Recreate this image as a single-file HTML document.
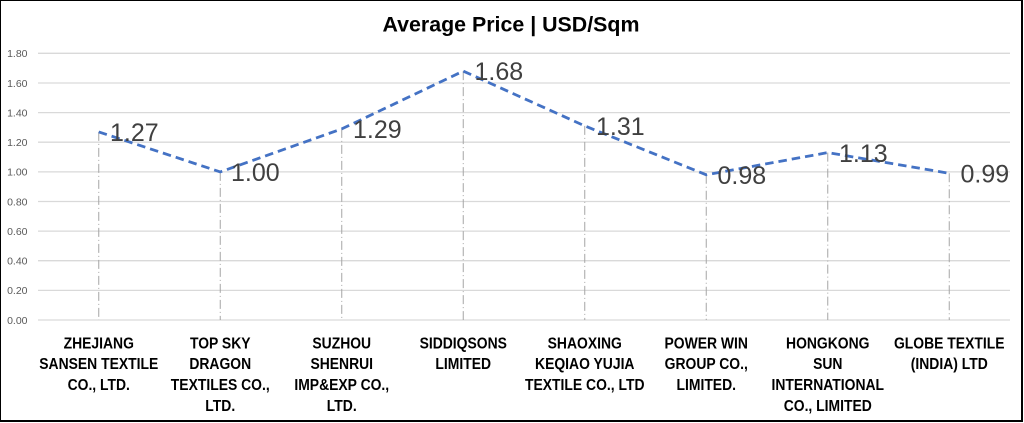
<!DOCTYPE html>
<html>
<head>
<meta charset="utf-8">
<style>
  html, body { margin: 0; padding: 0; background: #fff; }
  body { width: 1024px; height: 423px; overflow: hidden; position: relative; }
  .frame { position: absolute; left: 0; top: 0; width: 1023px; height: 422px; box-sizing: border-box;
           border-left: 1px solid #000; border-top: 1px solid #000; border-right: 2px solid #000; border-bottom: 2px solid #000; }
  svg { position: absolute; left: 0; top: 0; }
</style>
</head>
<body>
<div class="frame"></div>
<svg width="1024" height="423" viewBox="0 0 1024 423" xmlns="http://www.w3.org/2000/svg">
  <!-- Title -->
  <text x="511" y="31.7" text-anchor="middle" font-family="Liberation Sans, sans-serif" font-weight="bold" font-size="21" fill="#000" textLength="257" lengthAdjust="spacingAndGlyphs">Average Price | USD/Sqm</text>

  <!-- Gridlines -->
  <g stroke="#d9d9d9" stroke-width="1.3">
    <line x1="38" y1="53.3" x2="1010" y2="53.3"/>
    <line x1="38" y1="83" x2="1010" y2="83"/>
    <line x1="38" y1="112.6" x2="1010" y2="112.6"/>
    <line x1="38" y1="142.2" x2="1010" y2="142.2"/>
    <line x1="38" y1="171.9" x2="1010" y2="171.9"/>
    <line x1="38" y1="201.5" x2="1010" y2="201.5"/>
    <line x1="38" y1="231.1" x2="1010" y2="231.1"/>
    <line x1="38" y1="260.7" x2="1010" y2="260.7"/>
    <line x1="38" y1="290.4" x2="1010" y2="290.4"/>
    <line x1="38" y1="320" x2="1010" y2="320"/>
  </g>

  <!-- Y tick labels -->
  <g font-family="Liberation Sans, sans-serif" font-size="10.5" fill="#595959" text-anchor="end">
    <text x="27.5" y="57.1">1.80</text>
    <text x="27.5" y="86.8">1.60</text>
    <text x="27.5" y="116.4">1.40</text>
    <text x="27.5" y="146">1.20</text>
    <text x="27.5" y="175.7">1.00</text>
    <text x="27.5" y="205.3">0.80</text>
    <text x="27.5" y="234.9">0.60</text>
    <text x="27.5" y="264.5">0.40</text>
    <text x="27.5" y="294.2">0.20</text>
    <text x="27.5" y="323.8">0.00</text>
  </g>

  <!-- Drop lines -->
  <g stroke="#a6a6a6" stroke-width="1" stroke-dasharray="9 3 1 3">
    <line x1="98.75" y1="131.9" x2="98.75" y2="320"/>
    <line x1="220.25" y1="171.9" x2="220.25" y2="320"/>
    <line x1="341.75" y1="128.9" x2="341.75" y2="320"/>
    <line x1="463.25" y1="71.1" x2="463.25" y2="320"/>
    <line x1="584.75" y1="125.9" x2="584.75" y2="320"/>
    <line x1="706.25" y1="174.8" x2="706.25" y2="320"/>
    <line x1="827.75" y1="152.6" x2="827.75" y2="320"/>
    <line x1="949.25" y1="173.3" x2="949.25" y2="320"/>
  </g>

  <!-- Series -->
  <polyline fill="none" stroke="#4472C4" stroke-width="2.8" stroke-dasharray="8.5 5" stroke-linejoin="round"
    points="98.75,131.9 220.25,171.9 341.75,128.9 463.25,71.1 584.75,125.9 706.25,174.8 827.75,152.6 949.25,173.3"/>

  <!-- Data labels -->
  <g font-family="Liberation Sans, sans-serif" font-size="25" fill="#404040">
    <text x="110" y="141">1.27</text>
    <text x="231" y="181">1.00</text>
    <text x="353" y="138">1.29</text>
    <text x="474.5" y="80.2">1.68</text>
    <text x="596" y="135">1.31</text>
    <text x="717.5" y="184">0.98</text>
    <text x="839" y="161.8">1.13</text>
    <text x="960.5" y="182.5">0.99</text>
  </g>

  <!-- Category labels -->
  <g font-family="Liberation Sans, sans-serif" font-weight="bold" font-size="16" fill="#000" text-anchor="middle">
    <g transform="translate(98.75,0) scale(0.87,1)">
      <text x="0" y="348.3">ZHEJIANG</text>
      <text x="0" y="369.2">SANSEN TEXTILE</text>
      <text x="0" y="390">CO., LTD.</text>
    </g>
    <g transform="translate(220.25,0) scale(0.87,1)">
      <text x="0" y="348.3">TOP SKY</text>
      <text x="0" y="369.2">DRAGON</text>
      <text x="0" y="390">TEXTILES CO.,</text>
      <text x="0" y="410.9">LTD.</text>
    </g>
    <g transform="translate(341.75,0) scale(0.87,1)">
      <text x="0" y="348.3">SUZHOU</text>
      <text x="0" y="369.2">SHENRUI</text>
      <text x="0" y="390">IMP&amp;EXP CO.,</text>
      <text x="0" y="410.9">LTD.</text>
    </g>
    <g transform="translate(463.25,0) scale(0.87,1)">
      <text x="0" y="348.3">SIDDIQSONS</text>
      <text x="0" y="369.2">LIMITED</text>
    </g>
    <g transform="translate(584.75,0) scale(0.87,1)">
      <text x="0" y="348.3">SHAOXING</text>
      <text x="0" y="369.2">KEQIAO YUJIA</text>
      <text x="0" y="390">TEXTILE CO., LTD</text>
    </g>
    <g transform="translate(706.25,0) scale(0.87,1)">
      <text x="0" y="348.3">POWER WIN</text>
      <text x="0" y="369.2">GROUP CO.,</text>
      <text x="0" y="390">LIMITED.</text>
    </g>
    <g transform="translate(827.75,0) scale(0.87,1)">
      <text x="0" y="348.3">HONGKONG</text>
      <text x="0" y="369.2">SUN</text>
      <text x="0" y="390">INTERNATIONAL</text>
      <text x="0" y="410.9">CO., LIMITED</text>
    </g>
    <g transform="translate(949.25,0) scale(0.87,1)">
      <text x="0" y="348.3">GLOBE TEXTILE</text>
      <text x="0" y="369.2">(INDIA) LTD</text>
    </g>
  </g>
</svg>
</body>
</html>
